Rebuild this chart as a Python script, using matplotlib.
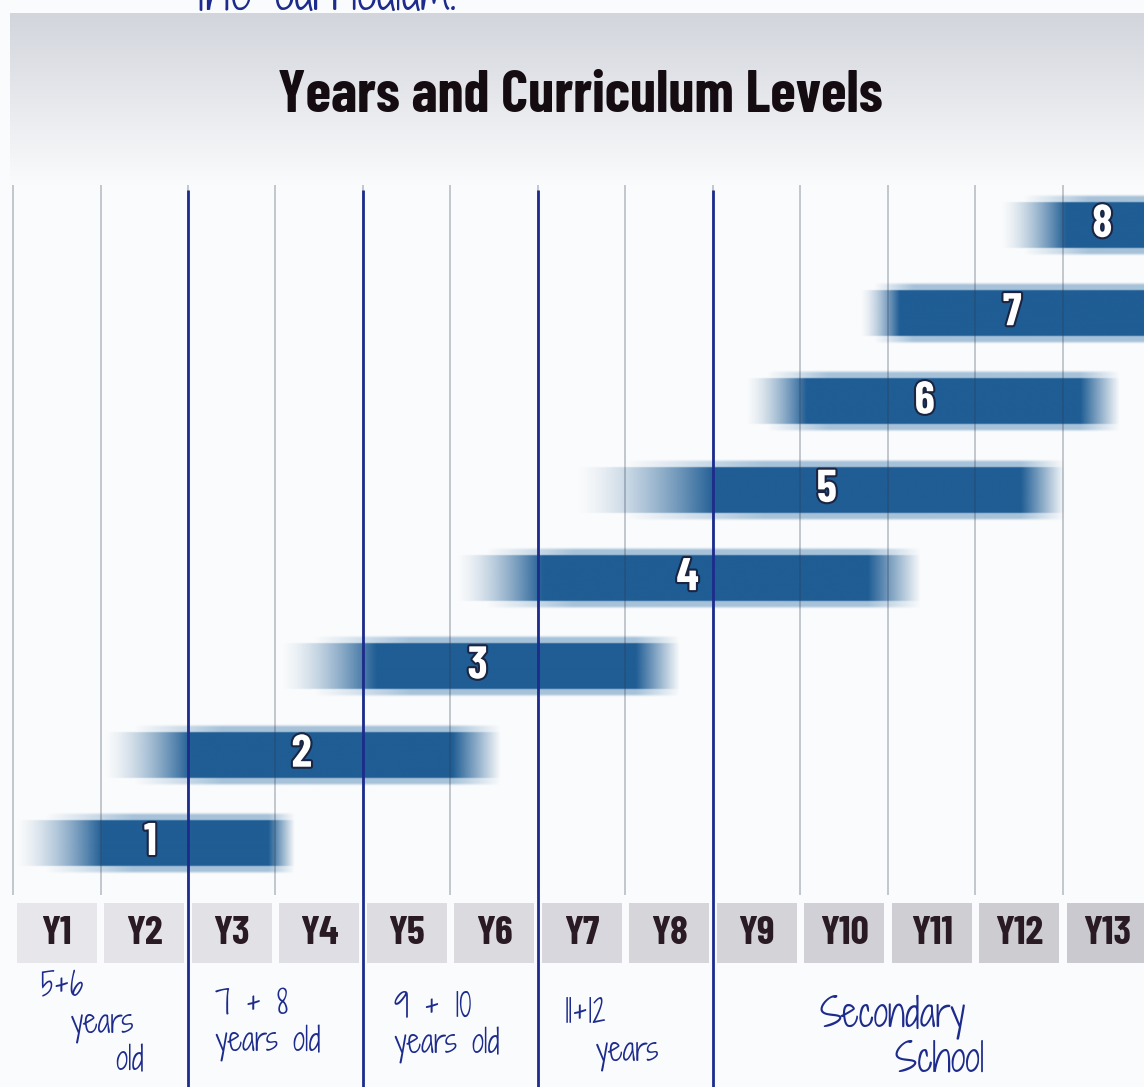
import numpy as np
import matplotlib
matplotlib.use("Agg")
import matplotlib.pyplot as plt
from matplotlib import patheffects as pe
from matplotlib.colors import to_rgb
from matplotlib.patches import Rectangle
import logging

logging.getLogger("matplotlib.font_manager").setLevel(logging.ERROR)

# School years along the bottom, one column each
years = ["Y1", "Y2", "Y3", "Y4", "Y5", "Y6", "Y7", "Y8",
         "Y9", "Y10", "Y11", "Y12", "Y13"]

# Curriculum levels: span in year-columns (0 = left edge of Y1)
levels = [1, 2, 3, 4, 5, 6, 7, 8]
level_start = [0.02, 1.03, 3.05, 5.05, 6.42, 8.37, 9.68, 11.28]
level_end = [3.22, 5.57, 7.62, 10.37, 12.02, 12.65, 13.4, 13.4]
fade_in = [1.0, 1.0, 1.1, 1.0, 1.6, 0.7, 0.45, 0.75]
fade_out = [0.3, 0.55, 0.5, 0.6, 0.5, 0.45, 0.4, 0.4]
label_x = [1.57, 3.30, 5.31, 7.71, 9.30, 10.42, 11.42, 12.45]

# hand drawn phase boundaries (between year columns)
phase_lines = [2, 4, 6, 8]

# handwritten notes under the year boxes: (text, left x, centre y)
age_notes = [
    ("5+6\n  years\n     old", 0.31, -1.06),
    ("7 + 8\nyears old", 2.31, -1.06),
    ("9 + 10\nyears old", 4.36, -1.08),
    ("11+12\n  years", 6.31, -1.16),
    ("Secondary\n    School", 9.22, -1.22),
]

NARROW = ["Barlow Condensed", "Roboto Condensed", "Oswald", "DejaVu Sans"]
HAND = ["Shadows Into Light Two", "Shadows Into Light", "Lato", "DejaVu Sans"]
INK = "#1c2b8c"
CORE = np.array(to_rgb("#1f5d94"))
BAND = np.array(to_rgb("#6f9cc2"))


def bar_image(width, fin, fout, nx=700, ny=80):
    x = np.linspace(0, width, nx)[None, :]
    y = np.linspace(-0.35, 0.35, ny)[:, None]
    ax_core = np.clip(x / fin, 0, 1) ** 1.5 * np.clip((width - x) / fout, 0, 1)
    ax_band = np.clip((x - 0.35 * fin) / fin, 0, 1) * np.clip((width - x) / fout, 0, 1)
    core = np.clip((0.27 - np.abs(y)) / 0.015, 0, 1)
    outer = np.clip((0.35 - np.abs(y)) / 0.03, 0, 1)
    a_core = core * ax_core
    a_band = (1 - core) * outer * ax_band * 0.6
    alpha = a_core + a_band
    w = np.where(alpha > 0, a_core / np.maximum(alpha, 1e-6), 1)[..., None]
    rgb = w * CORE + (1 - w) * BAND
    return np.dstack([rgb, alpha])


fig = plt.figure(figsize=(11.44, 10.87), dpi=100)
fig.patch.set_facecolor("#fafbfc")

# background: grey band behind the title
bg = fig.add_axes([0, 0, 1, 1], zorder=-1)
bg.set_xlim(0, 1144)
bg.set_ylim(1087, 0)
bg.axis("off")
grad = np.linspace(0, 1, 200)[:, None]
top = np.array(to_rgb("#d2d5dc"))
bot = np.array(to_rgb("#fafbfc"))
band = (1 - grad[..., None]) * top + grad[..., None] * bot
band = np.repeat(band, 2, axis=1)
bg.imshow(band, extent=(10, 1144, 185, 13), aspect="auto", interpolation="bilinear")

ax = fig.add_axes([0, 0, 1, 1])
ax.axis("off")

# curriculum level bars
for lvl, s, e, fi, fo in zip(levels, level_start, level_end, fade_in, fade_out):
    img = bar_image(e - s, fi, fo)
    ax.imshow(img, extent=(s, e, lvl - 0.35, lvl + 0.35), origin="lower",
              aspect="auto", interpolation="bilinear", zorder=2)

for lvl, lx in zip(levels, label_x):
    ax.text(lx, lvl, str(lvl), ha="center", va="center", color="white",
            fontsize=33, fontweight="bold", family=NARROW, zorder=5,
            path_effects=[pe.withStroke(linewidth=3, foreground="#1b2440")])

# grid of year columns
ax.vlines(range(len(years)), 0.41, 8.45, color="#2e3850", lw=1.2,
          alpha=0.32, zorder=3)
ax.vlines(phase_lines, -1.8, 8.40, color=INK, lw=2.0, zorder=4)

# year boxes
shades = np.linspace(0.90, 0.79, len(years))
for i, yr in enumerate(years):
    g = shades[i]
    ax.add_patch(Rectangle((i + 0.045, -0.359), 0.91, 0.68,
                           facecolor=(g, g, g + 0.02), edgecolor="none", zorder=1))
    ax.text(i + 0.5, -0.02, yr, ha="center", va="center", fontsize=29,
            fontweight="bold", family=NARROW, color="#2a1a24", zorder=5)

for txt, x, y in age_notes:
    size = 27 if txt.startswith("Secondary") else 22
    ax.text(x, y, txt, ha="left", va="center", fontsize=size, linespacing=1.0,
            family=HAND, color=INK, zorder=5)

ax.set_xlim(-0.1486, 12.926)
ax.set_ylim(-1.763, 10.547)

fig.text(580 / 1144, 1 - 97 / 1087, "Years and Curriculum Levels",
         ha="center", va="center", fontsize=42, fontweight="bold",
         family=NARROW, color="#140c10")
fig.text(195 / 1144, 1 - 10 / 1087, "the curriculum.", ha="left",
         va="baseline", fontsize=34, family=HAND, color=INK)

fig.savefig("out.png", dpi=100, facecolor=fig.get_facecolor())
